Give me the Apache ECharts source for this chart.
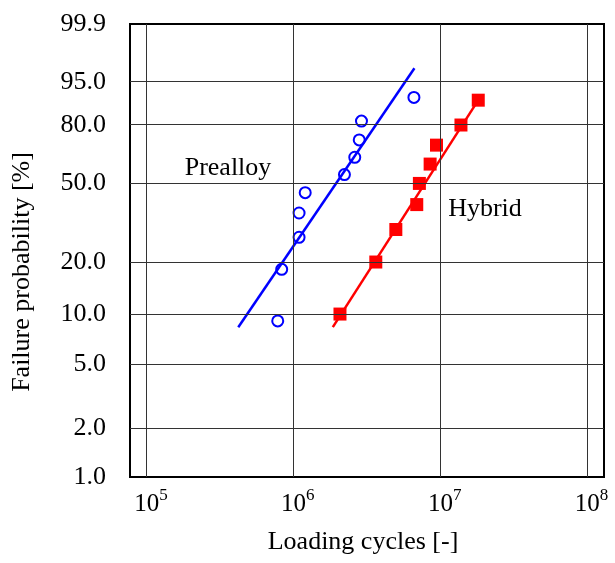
<!DOCTYPE html>
<html>
<head>
<meta charset="utf-8">
<script src="https://cdn.jsdelivr.net/npm/echarts@6/dist/echarts.min.js"></script>
<style>html,body{margin:0;padding:0;background:#fff;}</style>
</head>
<body>
<div id="main" style="width:615px;height:563px;"></div>
<script type="text/javascript">
    // 数据: loading cycles / failure probability [%]
    var preCycles = [7.8e5, 8.3e5, 1.09e6, 1.09e6, 1.2e6, 2.22e6, 2.61e6, 2.8e6, 2.9e6, 6.6e6];
    var preProb   = [9.1, 18.2, 27.3, 36.4, 45.5, 54.5, 63.6, 72.7, 81.8, 90.9];
    var hybCycles = [2.07e6, 3.63e6, 4.97e6, 6.9e6, 7.19e6, 8.51e6, 9.4e6, 1.38e7, 1.81e7];
    var hybProb   = [10, 20, 30, 40, 50, 60, 70, 80, 90];
    // fitted lines, two end points each
    var preFitCycles = [4.2e5, 6.65e6];
    var preFitProb   = [8.35, 97.4];
    var hybFitCycles = [1.85e6, 1.81e7];
    var hybFitProb   = [8.35, 90];
    // tick labels
    var yTicks = [1.0, 2.0, 5.0, 10.0, 20.0, 50.0, 80.0, 95.0, 99.9];
    var xExps  = [5, 6, 7, 8];

    var FONT = "'Liberation Serif', 'Times New Roman', serif";

    // weibull probability scale
    function wb(p) { return Math.log(-Math.log(1 - p / 100)); }

    function pairs(xs, ps) {
        var out = [];
        for (var i = 0; i < xs.length; i++) out.push([xs[i], wb(ps[i])]);
        return out;
    }

    var gridLines = [];
    for (var i = 0; i < yTicks.length; i++) {
        var edge = (i === 0 || i === yTicks.length - 1);
        gridLines.push({
            yAxis: wb(yTicks[i]),
            lineStyle: edge ? {color: '#000', width: 2} : {color: '#333', width: 1},
            label: {
                show: true, position: 'start', distance: 24,
                formatter: yTicks[i].toFixed(1),
                fontFamily: FONT, fontSize: 26, color: '#000'
            }
        });
    }
    for (var j = 0; j < xExps.length; j++) {
        gridLines.push({
            xAxis: Math.pow(10, xExps[j]),
            label: {
                show: true, position: 'start', distance: 10,
                formatter: '{h|' + xExps[j] + '}10{s|' + xExps[j] + '}',
                fontFamily: FONT, fontSize: 25, lineHeight: 34, color: '#000',
                rich: {
                    h: {fontFamily: FONT, fontSize: 17, lineHeight: 17, color: 'rgba(0,0,0,0)', verticalAlign: 'top'},
                    s: {fontFamily: FONT, fontSize: 17, lineHeight: 17, color: '#000', verticalAlign: 'top'}
                }
            }
        });
    }

    var myChart = echarts.init(document.getElementById('main'));

    var option = {
        animation: false,
        backgroundColor: '#fff',
        grid: {
            left: 130, top: 24, right: 11, bottom: 86,
            show: true, borderColor: '#000', borderWidth: 2
        },
        xAxis: {
            type: 'log',
            logBase: 10,
            min: Math.pow(10, 4.886),
            max: Math.pow(10, 8.114),
            axisLine: {show: false},
            axisTick: {show: false},
            axisLabel: {show: false},
            splitLine: {show: false}
        },
        yAxis: {
            type: 'value',
            min: wb(1.0),
            max: wb(99.9),
            axisLine: {show: false},
            axisTick: {show: false},
            axisLabel: {show: false},
            splitLine: {show: false}
        },
        graphic: [
            {type: 'text', x: 228, y: 168, style: {text: 'Prealloy', font: '26px ' + FONT, fill: '#000', textAlign: 'center', textVerticalAlign: 'middle'}},
            {type: 'text', x: 485, y: 209, style: {text: 'Hybrid', font: '26px ' + FONT, fill: '#000', textAlign: 'center', textVerticalAlign: 'middle'}},
            {type: 'text', x: 363, y: 542, style: {text: 'Loading cycles [-]', font: '26px ' + FONT, fill: '#000', textAlign: 'center', textVerticalAlign: 'middle'}},
            {type: 'text', x: 22, y: 272, rotation: Math.PI / 2, style: {text: 'Failure probability [%]', font: '26px ' + FONT, fill: '#000', textAlign: 'center', textVerticalAlign: 'middle'}}
        ],
        series: [
            {
                type: 'line',
                data: [],
                silent: true,
                markLine: {
                    silent: true,
                    symbol: ['none', 'none'],
                    animation: false,
                    lineStyle: {color: '#333', width: 1, type: 'solid'},
                    emphasis: {disabled: true},
                    data: gridLines
                }
            },
            {
                name: 'Prealloy fit', type: 'line', showSymbol: false, silent: true,
                lineStyle: {color: '#0000ff', width: 2.5},
                data: pairs(preFitCycles, preFitProb)
            },
            {
                name: 'Hybrid fit', type: 'line', showSymbol: false, silent: true,
                lineStyle: {color: '#ff0000', width: 2.5},
                data: pairs(hybFitCycles, hybFitProb)
            },
            {
                name: 'Prealloy', type: 'scatter', symbol: 'circle', symbolSize: 11,
                itemStyle: {color: '#fff', borderColor: '#0000ff', borderWidth: 2, opacity: 1},
                data: pairs(preCycles, preProb)
            },
            {
                name: 'Hybrid', type: 'scatter', symbol: 'rect', symbolSize: 13,
                itemStyle: {color: '#ff0000', opacity: 1},
                data: pairs(hybCycles, hybProb)
            }
        ]
    };

    myChart.setOption(option);
</script>
</body>
</html>
